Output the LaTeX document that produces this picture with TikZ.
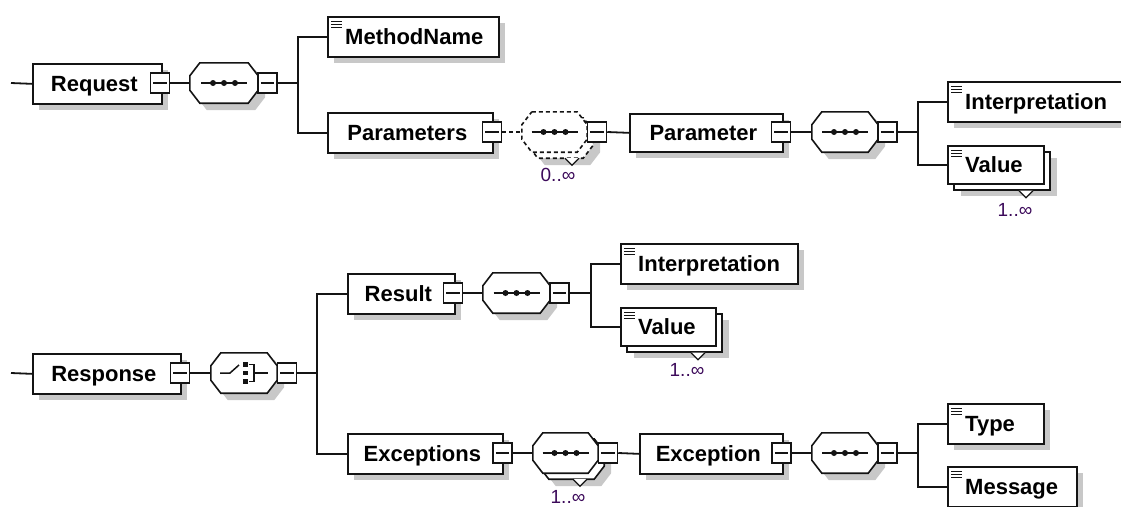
\documentclass[tikz,border=0pt]{standalone}
\usepackage{fontspec}
\setmainfont{Liberation Sans}
\usetikzlibrary{calc}
\pgfdeclarelayer{bg}
\pgfsetlayers{bg,main}
\definecolor{shd}{RGB}{200,200,200}
\definecolor{ln}{RGB}{20,20,20}
\definecolor{occ}{RGB}{60,10,90}
\tikzset{
  conn/.style={draw=ln, line width=1.8pt},
  ebox/.style={draw=ln, fill=white, line width=1.7pt, inner sep=0pt, rectangle},
  mbox/.style={draw=ln, fill=white, line width=1.5pt, inner sep=0pt, rectangle, minimum width=19pt, minimum height=20pt},
  cbox/.style={inner sep=0pt, rectangle},
  lbl/.style={font=\fontsize{22}{24}\selectfont\bfseries, inner sep=0pt},
  occl/.style={font=\fontsize{19}{21}\selectfont, text=occ, inner sep=0pt},
  dashline/.style={dash pattern=on 4pt off 3pt},
}
% element box with centred label
\newcommand\elem[6]{%
  \begin{pgfonlayer}{bg}\fill[shd] (#2+7,#3+7) rectangle ++(#4,#5);\end{pgfonlayer}
  \node[ebox, minimum width=#4pt, minimum height=#5pt, anchor=north west] (#1) at (#2,#3) {};
  \node[lbl, anchor=base] (#1-t) at ($(#1.center)+(-3pt,-7.9pt)$) {#6};
}
% icon of a simple-typed element
\newcommand\elicon[1]{%
  \foreach \d in {5,8,11}{\draw[ln, line width=1pt] ($(#1.north west)+(4pt,-\d pt)$) -- ++(11pt,0);}
}
% element box with icon
\newcommand\elemi[6]{%
  \begin{pgfonlayer}{bg}\fill[shd] (#2+7,#3+7) rectangle ++(#4,#5);\end{pgfonlayer}
  \node[ebox, minimum width=#4pt, minimum height=#5pt, anchor=north west] (#1) at (#2,#3) {};
  \elicon{#1}
  \node[lbl, anchor=base west] (#1-t) at ($(#1.west)+(18pt,-7.9pt)$) {#6};
}
% repeated element with icon
\newcommand\elemr[7]{%
  \begin{pgfonlayer}{bg}\fill[shd] (#2+14,#3+13) rectangle ++(#4,#5);\end{pgfonlayer}
  \node[ebox, minimum width=#4pt, minimum height=#5pt, anchor=north west] (#1-b) at (#2+6,#3+6) {};
  \draw[ln, fill=white, line width=1.2pt] ($(#1-b.south west)+(#7pt-#2pt-6pt-7pt,0)$) -- ++(7pt,-7pt) -- ++(7pt,7pt);
  \node[ebox, minimum width=#4pt, minimum height=#5pt, anchor=north west] (#1) at (#2,#3) {};
  \elicon{#1}
  \node[lbl, anchor=base west] (#1-t) at ($(#1.west)+(18pt,-7.9pt)$) {#6};
}
% minus (collapse) box
\newcommand\minus[3]{%
  \node[mbox] (#1) at (#2,#3) {};
  \draw[ln, line width=1.4pt] ($(#1.west)+(3.5pt,0)$) -- ($(#1.east)+(-3.5pt,0)$);
}
% octagon around node #1 shifted by #2,#3, with options #4
\newcommand\octn[4]{%
  \draw[#4] ([xshift=#2+10pt,yshift=#3]#1.north west) -- ([xshift=#2-10pt,yshift=#3]#1.north east)
   -- ([xshift=#2,yshift=#3-13pt]#1.north east) -- ([xshift=#2,yshift=#3+13pt]#1.south east)
   -- ([xshift=#2-10pt,yshift=#3]#1.south east) -- ([xshift=#2+10pt,yshift=#3]#1.south west)
   -- ([xshift=#2,yshift=#3+13pt]#1.south west) -- ([xshift=#2,yshift=#3-13pt]#1.north west) -- cycle;
}
\newcommand\comp[6]{%
  \node[cbox, minimum width=#4pt, minimum height=#5pt] (#1) at (#2,#3) {};
  \begin{pgfonlayer}{bg}\octn{#1}{7pt}{-7pt}{fill=shd, draw=none}\end{pgfonlayer}
  \octn{#1}{0pt}{0pt}{draw=ln, fill=white, line width=1.6pt, #6}
}
\newcommand\compr[7]{%
  \node[cbox, minimum width=#4pt, minimum height=#5pt] (#1) at (#2,#3) {};
  \begin{pgfonlayer}{bg}\octn{#1}{13pt}{-13pt}{fill=shd, draw=none}\end{pgfonlayer}
  \octn{#1}{6pt}{-6pt}{draw=ln, fill=white, line width=1.6pt, #6}
  \draw[ln, fill=white, line width=1.2pt] ($(#1.south)+(#7pt-7pt,-6pt)$) -- ++(7pt,-7pt) -- ++(7pt,7pt);
  \octn{#1}{0pt}{0pt}{draw=ln, fill=white, line width=1.6pt, #6}
}
\newcommand\seqicon[1]{%
  \draw[ln, line width=1.5pt] ($(#1.center)+(-23pt,0)$) -- ($(#1.center)+(23pt,0)$);
  \foreach \d in {-11,0,11}{\fill[ln] ($(#1.center)+(\d pt,0)$) circle (3pt);}
}
\newcommand\choiceicon[1]{%
  \draw[ln, line width=1.5pt] ($(#1.center)+(-24pt,0)$) -- ++(10pt,0) -- ++(9pt,8pt);
  \foreach \d in {-8.5,0,8.5}{\fill[ln] ($(#1.center)+(-1pt,\d pt-2pt)$) rectangle ++(4.5pt,4.5pt);}
  \draw[ln, line width=1.5pt] ($(#1.center)+(5pt,8.5pt)$) -- ++(5pt,0) -- ++(0,-17pt) -- ++(-5pt,0);
  \draw[ln, line width=1.5pt] ($(#1.center)+(10pt,0)$) -- ++(14pt,0);
}
\begin{document}
\begin{tikzpicture}[x=1pt, y=-1pt]
\useasboundingbox (0,0) rectangle (1121,506);
% ---------------- Request ----------------
\coordinate (in1) at (11,83);
\elem{req}{32}{63}{129}{40}{Request}
\minus{req-m}{160}{83}
\comp{seq1}{224}{83}{68}{40}{}
\seqicon{seq1}
\minus{seq1-m}{267.5}{83}
\coordinate (j1) at (298,83);
\elemi{mname}{327}{16}{171}{40}{MethodName}
\elem{params}{327}{112}{165}{40}{Parameters}
\minus{params-m}{492}{132}
\compr{seq2}{554.5}{132}{65}{40}{dashline}{17.5}
\seqicon{seq2}
\minus{seq2-m}{597}{132}
\node[occl] (occ1) at (558,175) {0..∞};
\elem{param}{629}{113}{153}{38}{Parameter}
\minus{param-m}{781}{132}
\comp{seq3}{845}{132}{66}{40}{}
\seqicon{seq3}
\minus{seq3-m}{887.5}{132}
\coordinate (j2) at (918,132);
\elemi{interp1}{947}{81}{200}{40}{Interpretation}
\elemr{value1}{947}{145}{96}{38}{Value}{1026}
\node[occl] (occ2) at (1015,210) {1..∞};
\draw[conn] (in1) -- (req.west);
\draw[conn] (req-m.east) -- (seq1.west);
\draw[conn] (seq1-m.east) -- (j1);
\draw[conn] (mname.west) -| (j1) |- (params.west);
\draw[conn, dashline] (params-m.east) -- (seq2.west);
\draw[conn] (seq2-m.east) -- (param.west);
\draw[conn] (param-m.east) -- (seq3.west);
\draw[conn] (seq3-m.east) -- (j2);
\draw[conn] (interp1.west) -| (j2) |- (value1.west);
% ---------------- Response ----------------
\coordinate (in2) at (11,373);
\elem{resp}{32}{353}{148}{40}{Response}
\minus{resp-m}{180}{373}
\comp{choice}{244}{373}{66}{40}{}
\choiceicon{choice}
\minus{choice-m}{287}{373}
\coordinate (j3) at (317,373);
\elem{result}{347}{273}{107}{40}{Result}
\minus{result-m}{453}{293}
\comp{seq4}{516.5}{293}{67}{40}{}
\seqicon{seq4}
\minus{seq4-m}{559.5}{293}
\coordinate (j4) at (591,293);
\elemi{interp2}{620}{243}{177}{40}{Interpretation}
\elemr{value2}{620}{307}{95}{38}{Value}{698}
\node[occl] (occ3) at (687,370) {1..∞};
\elem{exceptions}{347}{433}{155}{40}{Exceptions}
\minus{exceptions-m}{502.5}{453}
\compr{seq5}{565.5}{453}{65}{40}{}{14.5}
\seqicon{seq5}
\minus{seq5-m}{608}{453}
\node[occl] (occ4) at (568,497) {1..∞};
\elem{exception}{639}{433}{143}{40}{Exception}
\minus{exception-m}{781.5}{453}
\comp{seq6}{845}{453}{66}{40}{}
\seqicon{seq6}
\minus{seq6-m}{887.5}{453}
\coordinate (j5) at (918,453);
\elemi{type}{947}{403}{96}{40}{Type}
\elemi{message}{947}{466}{129}{40}{Message}
\draw[conn] (in2) -- (resp.west);
\draw[conn] (resp-m.east) -- (choice.west);
\draw[conn] (choice-m.east) -- (j3);
\draw[conn] (result.west) -| (j3) |- (exceptions.west);
\draw[conn] (result-m.east) -- (seq4.west);
\draw[conn] (seq4-m.east) -- (j4);
\draw[conn] (interp2.west) -| (j4) |- (value2.west);
\draw[conn] (exceptions-m.east) -- (seq5.west);
\draw[conn] (seq5-m.east) -- (exception.west);
\draw[conn] (exception-m.east) -- (seq6.west);
\draw[conn] (seq6-m.east) -- (j5);
\draw[conn] (type.west) -| (j5) |- (message.west);
\end{tikzpicture}
\end{document}
